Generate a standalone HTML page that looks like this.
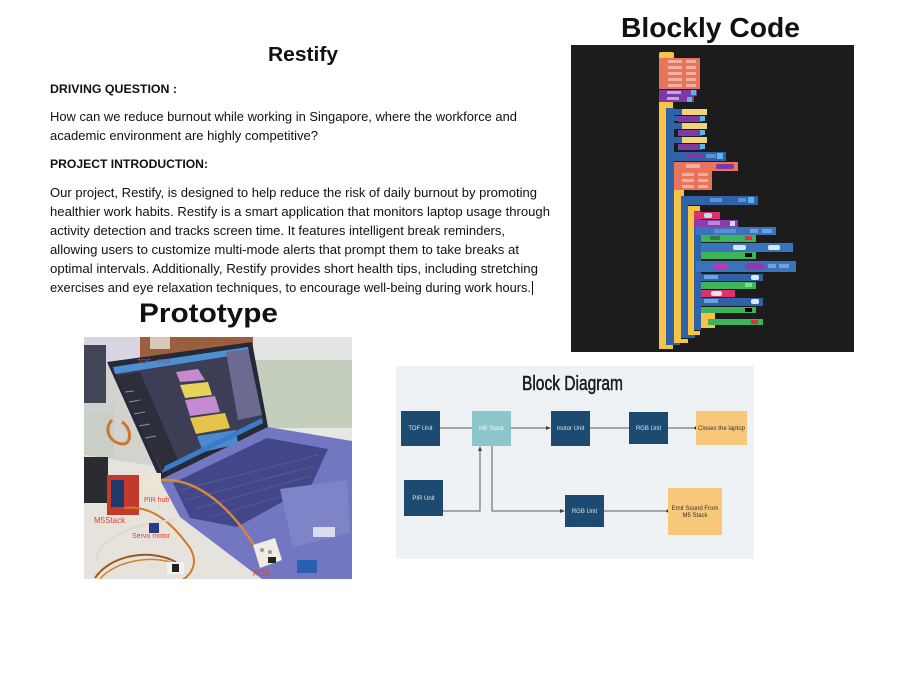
<!DOCTYPE html>
<html>
<head>
<meta charset="utf-8">
<style>
  html,body{margin:0;padding:0;background:#ffffff;}
  svg{display:block;}
  .t{font-family:"Liberation Sans",Arial,sans-serif;}
</style>
</head>
<body>
<svg width="900" height="675" viewBox="0 0 900 675" xmlns="http://www.w3.org/2000/svg">
  <rect x="0" y="0" width="900" height="675" fill="#ffffff"/>

  <!-- ===== Text column ===== -->
  <g class="t" fill="#111">
    <text x="268" y="61" font-size="20" font-weight="bold" textLength="70" lengthAdjust="spacingAndGlyphs">Restify</text>
    <text x="50" y="93" font-size="12" font-weight="bold" textLength="127" lengthAdjust="spacingAndGlyphs">DRIVING QUESTION :</text>
    <text x="50" y="121" font-size="13" textLength="467" lengthAdjust="spacingAndGlyphs">How can we reduce burnout while working in Singapore, where the workforce and</text>
    <text x="50" y="140" font-size="13" textLength="268" lengthAdjust="spacingAndGlyphs">academic environment are highly competitive?</text>
    <text x="50" y="168" font-size="12" font-weight="bold" textLength="158" lengthAdjust="spacingAndGlyphs">PROJECT INTRODUCTION:</text>
    <text x="50" y="197" font-size="13" textLength="487" lengthAdjust="spacingAndGlyphs">Our project, Restify, is designed to help reduce the risk of daily burnout by promoting</text>
    <text x="50" y="216" font-size="13" textLength="500" lengthAdjust="spacingAndGlyphs">healthier work habits. Restify is a smart application that monitors laptop usage through</text>
    <text x="50" y="235" font-size="13" textLength="455" lengthAdjust="spacingAndGlyphs">activity detection and tracks screen time. It features intelligent break reminders,</text>
    <text x="50" y="254" font-size="13" textLength="469" lengthAdjust="spacingAndGlyphs">allowing users to customize multi-mode alerts that prompt them to take breaks at</text>
    <text x="50" y="273" font-size="13" textLength="488" lengthAdjust="spacingAndGlyphs">optimal intervals. Additionally, Restify provides short health tips, including stretching</text>
    <text x="50" y="292" font-size="13" textLength="481" lengthAdjust="spacingAndGlyphs">exercises and eye relaxation techniques, to encourage well-being during work hours.</text>
    <rect x="532" y="281" width="1" height="14" fill="#111"/>
    <text x="139" y="322" font-size="27" font-weight="bold" textLength="139" lengthAdjust="spacingAndGlyphs">Prototype</text>
    <text x="621" y="37" font-size="28" font-weight="bold" textLength="179" lengthAdjust="spacingAndGlyphs">Blockly Code</text>
  </g>

  <!-- ===== Blockly panel ===== -->
  <g>
    <rect x="571" y="45" width="283" height="307" fill="#1c1c1c"/>
    <rect x="659" y="52" width="15" height="7" rx="2" fill="#f6c445"/>
    <rect x="659" y="58" width="41" height="31" fill="#e9745c"/>
    <g fill="#f3b0a0">
      <rect x="668" y="60" width="14" height="3"/><rect x="686" y="60" width="10" height="3"/>
      <rect x="668" y="66" width="14" height="3"/><rect x="686" y="66" width="10" height="3"/>
      <rect x="668" y="72" width="14" height="3"/><rect x="686" y="72" width="10" height="3"/>
      <rect x="668" y="78" width="14" height="3"/><rect x="686" y="78" width="10" height="3"/>
      <rect x="668" y="84" width="14" height="3"/><rect x="686" y="84" width="10" height="3"/>
    </g>
    <rect x="659" y="90" width="38" height="6" fill="#7b3aa6"/>
    <rect x="659" y="96" width="35" height="6" fill="#7b3aa6"/>
    <rect x="691" y="90" width="5" height="5" fill="#5bb6e6"/>
    <rect x="687" y="97" width="5" height="5" fill="#5bb6e6"/>
    <rect x="667" y="91" width="14" height="3" fill="#c7a0e0"/>
    <rect x="667" y="97" width="12" height="3" fill="#c7a0e0"/>

    <rect x="659" y="102" width="7" height="246" fill="#f6c445"/>
    <rect x="659" y="344" width="14" height="5" fill="#f6c445"/>
    <rect x="659" y="102" width="14" height="6" fill="#f6c445"/>
    <rect x="666" y="108" width="8" height="236" fill="#2f62a6"/>
    <rect x="666" y="340" width="14" height="5" fill="#2f62a6"/>

    <rect x="666" y="108" width="8" height="44" fill="#2f62a6"/>
    <rect x="671" y="109" width="12" height="6" fill="#2f62a6"/>
    <rect x="682" y="109" width="25" height="6" fill="#f2d37a"/>
    <rect x="674" y="116" width="7" height="5" fill="#2f62a6"/>
    <rect x="678" y="116" width="24" height="6" fill="#7b3aa6"/>
    <rect x="700" y="116" width="5" height="5" fill="#5bb6e6"/>
    <rect x="671" y="123" width="12" height="6" fill="#2f62a6"/>
    <rect x="682" y="123" width="25" height="6" fill="#f2d37a"/>
    <rect x="678" y="130" width="24" height="6" fill="#7b3aa6"/>
    <rect x="700" y="130" width="5" height="5" fill="#5bb6e6"/>
    <rect x="671" y="137" width="12" height="6" fill="#2f62a6"/>
    <rect x="682" y="137" width="25" height="6" fill="#f2d37a"/>
    <rect x="678" y="144" width="24" height="6" fill="#7b3aa6"/>
    <rect x="700" y="144" width="5" height="5" fill="#5bb6e6"/>

    <rect x="666" y="152" width="60" height="9" fill="#2f62a6"/>
    <rect x="686" y="154" width="17" height="4" fill="#7b3aa6"/>
    <rect x="706" y="154" width="10" height="4" fill="#5b8fd0"/>
    <rect x="717" y="153" width="6" height="6" fill="#5bb6e6"/>

    <rect x="674" y="162" width="64" height="9" fill="#e9745c"/>
    <rect x="686" y="164" width="14" height="4" fill="#f3b0a0"/>
    <rect x="716" y="164" width="18" height="5" rx="2" fill="#7b3aa6"/>
    <rect x="674" y="171" width="38" height="19" fill="#e9745c"/>
    <rect x="682" y="173" width="12" height="3" fill="#f3b0a0"/><rect x="698" y="173" width="10" height="3" fill="#f3b0a0"/>
    <rect x="682" y="179" width="12" height="3" fill="#f3b0a0"/><rect x="698" y="179" width="10" height="3" fill="#f3b0a0"/>
    <rect x="682" y="185" width="12" height="3" fill="#f3b0a0"/><rect x="698" y="185" width="10" height="3" fill="#f3b0a0"/>

    <rect x="674" y="190" width="7" height="153" fill="#f6c445"/>
    <rect x="674" y="190" width="10" height="6" fill="#f6c445"/>
    <rect x="674" y="339" width="14" height="4" fill="#f6c445"/>
    <rect x="681" y="196" width="77" height="9" fill="#2f62a6"/>
    <rect x="710" y="198" width="12" height="4" fill="#5b8fd0"/>
    <rect x="738" y="198" width="8" height="4" fill="#5b8fd0"/>
    <rect x="748" y="197" width="6" height="6" fill="#5bb6e6"/>
    <rect x="681" y="205" width="7" height="132" fill="#2f62a6"/>
    <rect x="681" y="334" width="14" height="4" fill="#2f62a6"/>
    <rect x="688" y="206" width="6" height="129" fill="#f6c445"/>
    <rect x="688" y="206" width="12" height="5" fill="#f6c445"/>
    <rect x="688" y="331" width="12" height="4" fill="#f6c445"/>
    <rect x="694" y="211" width="7" height="119" fill="#2f62a6"/>

    <rect x="694" y="212" width="26" height="7" fill="#e0326a"/>
    <rect x="704" y="213" width="8" height="5" rx="2" fill="#bfe0f5"/>
    <rect x="694" y="220" width="44" height="7" fill="#8e3bb0"/>
    <rect x="708" y="221" width="12" height="4" fill="#b98ad6"/>
    <rect x="730" y="221" width="5" height="5" fill="#bfe0f5"/>
    <rect x="696" y="227" width="80" height="8" fill="#3a73bd"/>
    <rect x="714" y="229" width="22" height="4" fill="#5b8fd0"/>
    <rect x="750" y="229" width="8" height="4" fill="#6aa3e0"/>
    <rect x="762" y="229" width="10" height="4" fill="#6aa3e0"/>
    <rect x="701" y="235" width="55" height="7" fill="#3cb45a"/>
    <rect x="710" y="236" width="10" height="4" fill="#2e7d4a"/>
    <rect x="745" y="236" width="7" height="4" fill="#d33"/>
    <rect x="701" y="243" width="92" height="9" fill="#3a73bd"/>
    <rect x="733" y="245" width="13" height="5" rx="2" fill="#d8e8f6"/>
    <rect x="768" y="245" width="12" height="5" rx="2" fill="#d8e8f6"/>
    <rect x="701" y="252" width="55" height="7" fill="#3cb45a"/>
    <rect x="745" y="253" width="7" height="4" fill="#000"/>
    <rect x="696" y="261" width="100" height="11" fill="#3a73bd"/>
    <rect x="714" y="264" width="14" height="5" fill="#b43cb0"/>
    <rect x="745" y="263" width="20" height="7" rx="3" fill="#8e3bb0"/>
    <rect x="768" y="264" width="8" height="4" fill="#6aa3e0"/>
    <rect x="779" y="264" width="10" height="4" fill="#6aa3e0"/>
    <rect x="701" y="274" width="62" height="7" fill="#2f62a6"/>
    <rect x="704" y="275" width="14" height="4" fill="#6aa3e0"/>
    <rect x="751" y="275" width="8" height="5" rx="2" fill="#d8e8f6"/>
    <rect x="701" y="282" width="55" height="7" fill="#3cb45a"/>
    <rect x="745" y="283" width="7" height="4" fill="#7ce08a"/>
    <rect x="701" y="290" width="34" height="7" fill="#e0326a"/>
    <rect x="711" y="291" width="11" height="5" rx="2" fill="#d8e8f6"/>
    <rect x="701" y="298" width="62" height="8" fill="#2f62a6"/>
    <rect x="704" y="299" width="14" height="4" fill="#6aa3e0"/>
    <rect x="751" y="299" width="8" height="5" rx="2" fill="#d8e8f6"/>
    <rect x="701" y="307" width="55" height="6" fill="#3cb45a"/>
    <rect x="745" y="308" width="7" height="4" fill="#000"/>
    <rect x="701" y="313" width="14" height="15" fill="#f6c445"/>
    <rect x="708" y="319" width="55" height="6" fill="#3cb45a"/>
    <rect x="751" y="320" width="7" height="4" fill="#d33"/>
  </g>

  <!-- ===== Prototype photo ===== -->
  <g>
    <clipPath id="ph"><rect x="84" y="337" width="268" height="242"/></clipPath>
    <g clip-path="url(#ph)">
      <rect x="84" y="337" width="268" height="242" fill="#d4d2cc"/>
      <rect x="84" y="337" width="60" height="30" fill="#d9d5e2"/>
      <rect x="140" y="337" width="115" height="22" fill="#9a5f3e"/>
      <rect x="150" y="337" width="20" height="12" fill="#d8c8b8"/>
      <rect x="253" y="337" width="100" height="26" fill="#e2e5e4"/>
      <rect x="253" y="360" width="100" height="72" fill="#c4cebd"/>
      <rect x="253" y="428" width="100" height="14" fill="#e8e8e2"/>
      <rect x="84" y="345" width="22" height="58" fill="#414657"/>
      <rect x="84" y="403" width="30" height="10" fill="#cfd0d0"/>
      <rect x="84" y="413" width="30" height="45" fill="#c9cfc4"/>
      <path d="M112,420 C104,428 108,442 122,444 C132,445 132,428 122,422" fill="none" stroke="#c9792e" stroke-width="3"/>
      <polygon points="84,455 180,470 190,520 262,579 84,579" fill="#e6e3dd"/>
      <polygon points="160,480 268,427 352,441 352,579 262,579 180,517" fill="#7377c2"/>
      <polygon points="173,483 267,438 328,449 311,486 237,527 190,518" fill="#434688"/>
      <g stroke="#5a5d9e" stroke-width="1" opacity="0.8">
        <line x1="180" y1="490" x2="318" y2="455"/>
        <line x1="186" y1="500" x2="314" y2="466"/>
        <line x1="195" y1="509" x2="310" y2="476"/>
        <line x1="210" y1="517" x2="300" y2="491"/>
      </g>
      <polygon points="280,489 347,480 350,533 293,547" fill="#7f83c8"/>
      <rect x="313" y="527" width="22" height="10" fill="#d8dcef"/>
      <polygon points="107,362 252,342 268,427 160,480" fill="#272938"/>
      <polygon points="113,367 248,347 263,423 162,473" fill="#3b3e54"/>
      <polygon points="113,367 248,347 249,353 115,374" fill="#4d8fd0"/>
      <polygon points="115,376 140,372 178,460 162,470" fill="#2c2e3a"/>
      <polygon points="226,352 248,349 262,415 238,420" fill="#6b6b92"/>
      <polygon points="176,372 198,369 205,380 180,382" fill="#c68ad0"/>
      <polygon points="180,385 208,382 212,395 185,398" fill="#e6d35a"/>
      <polygon points="185,400 215,396 220,412 190,416" fill="#c68ad0"/>
      <polygon points="190,418 225,413 230,428 196,434" fill="#e6c44a"/>
      <polygon points="197,436 236,430 238,444 203,452" fill="#4a8ad0"/>
      <polygon points="165,466 262,418 263,423 162,473" fill="#3a7cc8"/>
      <g stroke="#8a8da8" stroke-width="1">
        <line x1="125" y1="392" x2="134" y2="391"/>
        <line x1="129" y1="402" x2="140" y2="400"/>
        <line x1="134" y1="414" x2="145" y2="412"/>
        <line x1="139" y1="426" x2="150" y2="424"/>
        <line x1="145" y1="438" x2="156" y2="436"/>
      </g>
      <rect x="84" y="457" width="24" height="46" fill="#2a2c30"/>
      <rect x="107" y="475" width="32" height="40" fill="#c43a2a"/>
      <rect x="111" y="480" width="13" height="27" fill="#1f3a6a"/>
      <rect x="139" y="473" width="22" height="20" fill="#ece4d4"/>
      <path d="M161,480 C200,478 232,510 256,548" fill="none" stroke="#d48a3a" stroke-width="2.5"/>
      <path d="M124,508 C150,505 170,520 190,548 C200,565 190,580 170,585" fill="none" stroke="#d07a2a" stroke-width="2"/>
      <path d="M96,560 C100,535 140,522 176,520" fill="none" stroke="#e0d8c8" stroke-width="2"/>
      <path d="M95,578 C110,555 150,548 176,562" fill="none" stroke="#9a5a20" stroke-width="2"/>
      <path d="M100,579 C115,560 160,552 182,568" fill="none" stroke="#d4822a" stroke-width="1.5"/>
      <rect x="149" y="523" width="10" height="10" fill="#2a3a8a"/>
      <rect x="167" y="562" width="17" height="12" fill="#f2f2f2"/>
      <rect x="172" y="564" width="7" height="8" fill="#222"/>
      <polygon points="253,545 275,538 282,560 260,568" fill="#efebe5"/>
      <circle cx="262" cy="550" r="2" fill="#999"/>
      <circle cx="270" cy="552" r="2" fill="#999"/>
      <rect x="268" y="557" width="8" height="6" fill="#222"/>
      <rect x="297" y="560" width="20" height="13" fill="#2a5fb0"/>
      <g class="t" fill="#e5402a" font-size="7">
        <text x="137" y="364">TOF</text>
        <text x="158" y="364">PIR</text>
        <text x="94" y="523" font-size="8">M5Stack</text>
        <text x="144" y="502">PIR hub</text>
        <text x="132" y="538">Servo motor</text>
        <text x="253" y="576" font-size="8">RGB</text>
      </g>
    </g>
  </g>

  <!-- ===== Block Diagram ===== -->
  <g>
    <rect x="396" y="366" width="358" height="193" fill="#eef2f4"/>
    <text x="522" y="390" font-family="Liberation Sans Narrow, Liberation Sans, sans-serif" font-size="20" fill="#1a1a1a" stroke="#1a1a1a" stroke-width="0.5" textLength="101" lengthAdjust="spacingAndGlyphs">Block Diagram</text>

    <g stroke="#5a5a5a" stroke-width="1" fill="none">
      <line x1="440" y1="428" x2="472" y2="428"/>
      <line x1="511" y1="428" x2="549" y2="428"/>
      <line x1="590" y1="428" x2="629" y2="428"/>
      <line x1="668" y1="428" x2="695" y2="428"/>
      <polyline points="443,511 480,511 480,449"/>
      <polyline points="492,446 492,511 563,511"/>
      <line x1="604" y1="511" x2="667" y2="511"/>
    </g>
    <polygon points="551,428 546,426 546,430" fill="#444"/>
    <polygon points="480,446 478,451 482,451" fill="#444"/>
    <polygon points="565,511 560,509 560,513" fill="#444"/>
    <circle cx="696" cy="428" r="1.5" fill="#222"/>
    <circle cx="668" cy="511" r="1.5" fill="#222"/>

    <rect x="401" y="411" width="39" height="35" fill="#1d4a70"/>
    <rect x="472" y="411" width="39" height="35" fill="#8cc6cc"/>
    <rect x="551" y="411" width="39" height="35" fill="#1d4a70"/>
    <rect x="629" y="412" width="39" height="32" fill="#1d4a70"/>
    <rect x="696" y="411" width="51" height="34" fill="#f7c87a"/>
    <rect x="404" y="480" width="39" height="36" fill="#1d4a70"/>
    <rect x="565" y="495" width="39" height="32" fill="#1d4a70"/>
    <rect x="668" y="488" width="54" height="47" fill="#f7c87a"/>

    <g class="t" font-size="6" text-anchor="middle" fill="#dfe6ee">
      <text x="420.5" y="430">TOF Unit</text>
      <text x="491.5" y="430" fill="#f4f8f8">M5 Stack</text>
      <text x="570.5" y="430">motor Unit</text>
      <text x="648.5" y="430">RGB Unit</text>
      <text x="423.5" y="500">PIR Unit</text>
      <text x="584.5" y="513">RGB Unit</text>
      <text x="721.5" y="430" fill="#333" textLength="47" lengthAdjust="spacingAndGlyphs">Closes the laptop</text>
      <text x="695" y="510" fill="#333">Emit Sound From</text>
      <text x="695" y="517" fill="#333">M5 Stack</text>
    </g>
  </g>
</svg>
</body>
</html>
